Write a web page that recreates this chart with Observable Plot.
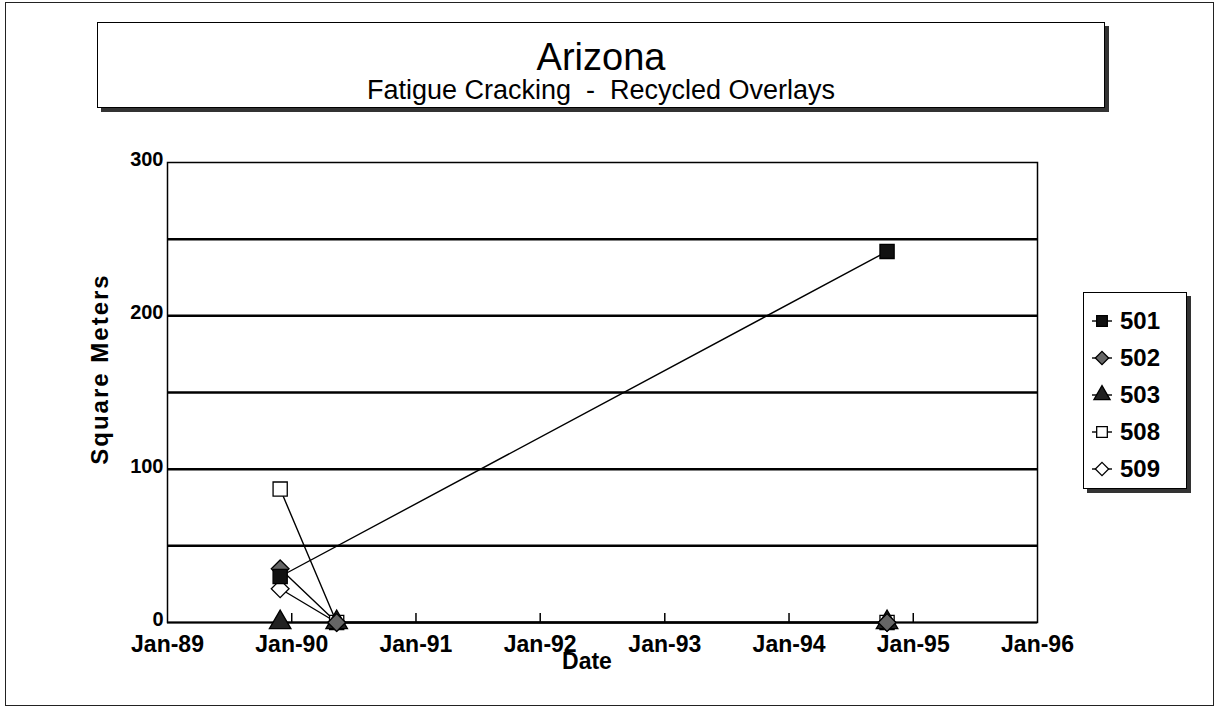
<!DOCTYPE html>
<html><head><meta charset="utf-8">
<script src="https://cdn.jsdelivr.net/npm/d3@7"></script>
<script src="https://cdn.jsdelivr.net/npm/@observablehq/plot@0.6"></script>
<style>
body{margin:0;background:#fff;font-family:"Liberation Sans",Arial,sans-serif;}
#wrap{position:relative;width:1219px;height:709px;overflow:hidden;background:#fff;}
#wrap > svg{position:absolute;left:0;top:0;}
.abs{position:absolute;box-sizing:border-box;}
</style></head><body><div id="wrap"></div>
<script>
// ---- data ----
const chartTitle = "Arizona";
const chartSubtitle = "Fatigue Cracking  -  Recycled Overlays";
const xTitle = "Date";
const yTitle = "Square Meters";
const seriesNames = ["501", "502", "503", "508", "509"];
const surveyDates = ["1989-11-28", "1990-05-13", "1994-10-16"];
const v501 = [30, null, 242];
const v502 = [35, 0, 0];
const v503 = [0, 0, 0];
const v508 = [87, 0, 0];
const v509 = [22, 0, 0];
const yTickValues = [0, 100, 200, 300];
const gridValues = [50, 100, 150, 200, 250];
const xTickDates = ["1989-01-01", "1990-01-01", "1991-01-01", "1992-01-01", "1993-01-01", "1994-01-01", "1995-01-01", "1996-01-01"];
const xTickLabels = ["Jan-89", "Jan-90", "Jan-91", "Jan-92", "Jan-93", "Jan-94", "Jan-95", "Jan-96"];
const seriesSymbols = ["square", "diamond2", "triangle", "square", "diamond2"];
const seriesFills = ["#111", "#666", "#222", "#fff", "#fff"];

// ---- build table ----
const valuesBySeries = [v501, v502, v503, v508, v509];
const rows = [];
seriesNames.forEach((s, i) => {
  valuesBySeries[i].forEach((v, j) => {
    if (v != null) rows.push({series: s, date: new Date(surveyDates[j]), value: v});
  });
});
const dotRows = rows.slice().sort((a, b) => seriesNames.indexOf(b.series) - seriesNames.indexOf(a.series));
const tickDates = xTickDates.map(d => new Date(d));
const labelOf = new Map(tickDates.map((d, i) => [+d, xTickLabels[i]]));

const W = 1219, H = 709;
const mT = 162, mB = 87;
const innerH = H - mT - mB;
const chart = Plot.plot({
  width: W, height: H,
  marginLeft: 167, marginRight: 182, marginTop: mT, marginBottom: mB,
  style: {fontFamily: "'Liberation Sans', Arial, sans-serif", fontSize: "22px", fontWeight: "bold", color: "#000", background: "transparent"},
  x: {type: "utc", domain: [tickDates[0], tickDates[tickDates.length - 1]]},
  y: {domain: [yTickValues[0], yTickValues[yTickValues.length - 1]]},
  symbol: {domain: seriesNames, range: seriesSymbols},
  color: {domain: seriesNames, range: seriesFills},
  marks: [
    Plot.ruleY(gridValues, {stroke: "#000", strokeWidth: 2.5}),
    Plot.frame({stroke: "#000", strokeWidth: 1.5}),
    Plot.ruleY([yTickValues[0]], {stroke: "#000", strokeWidth: 2}),
    Plot.ruleX(tickDates.slice(1, -1), {stroke: "#000", strokeWidth: 1.5, insetTop: innerH - 9}),
    Plot.axisY(yTickValues, {anchor: "left", tickSize: 0, tickPadding: 4, label: null, fontSize: 20, dy: -3}),
    Plot.axisX(tickDates, {anchor: "bottom", tickSize: 0, tickPadding: 13, tickFormat: d => labelOf.get(+d), label: null, fontSize: 23}),
    Plot.line(rows, {x: "date", y: "value", z: "series", stroke: "#000", strokeWidth: 1.4}),
    Plot.dot(dotRows, {x: "date", y: "value", symbol: "series", fill: "series", stroke: "#000", strokeWidth: 1.3, r: 8})
  ]
});
const wrap = document.getElementById("wrap");
wrap.appendChild(chart);

// outer frame
const outer = document.createElement("div");
outer.className = "abs";
Object.assign(outer.style, {left: "5px", top: "2px", width: "1209px", height: "704px", border: "1.5px solid #222"});
wrap.appendChild(outer);

// title box
const tb = document.createElement("div");
tb.className = "abs";
Object.assign(tb.style, {left: "97px", top: "22px", width: "1008px", height: "86px", border: "1.5px solid #000", boxShadow: "4px 4px 0 #333", background: "#fff", textAlign: "center"});
const t1 = document.createElement("div");
t1.textContent = chartTitle;
Object.assign(t1.style, {fontSize: "38px", lineHeight: "40px", marginTop: "14px"});
const t2 = document.createElement("div");
t2.textContent = chartSubtitle;
Object.assign(t2.style, {fontSize: "27px", lineHeight: "30px", marginTop: "-2px", whiteSpace: "pre"});
tb.appendChild(t1); tb.appendChild(t2);
wrap.appendChild(tb);

// axis titles
const xt = document.createElement("div");
xt.className = "abs";
xt.textContent = xTitle;
Object.assign(xt.style, {left: "487px", top: "648px", width: "200px", textAlign: "center", fontSize: "23px", fontWeight: "bold"});
wrap.appendChild(xt);
const yt = document.createElement("div");
yt.className = "abs";
yt.textContent = yTitle;
Object.assign(yt.style, {left: "0px", top: "0px", width: "260px", textAlign: "center", fontSize: "24px", letterSpacing: "2px", fontWeight: "bold", lineHeight: "28px", transformOrigin: "center center", transform: "translate(-30px, 355px) rotate(-90deg)"});
wrap.appendChild(yt);

// legend
const lg = document.createElement("div");
lg.className = "abs";
Object.assign(lg.style, {left: "1083px", top: "292px", width: "104px", height: "197px", border: "1.5px solid #000", boxShadow: "4px 4px 0 #333", background: "#fff"});
const symMap = {square: d3.symbolSquare, diamond2: d3.symbolDiamond2, triangle: d3.symbolTriangle};
const lsvg = d3.create("svg").attr("width", 101).attr("height", 194).style("position", "absolute").style("left", "0").style("top", "0");
seriesNames.forEach((s, i) => {
  const cy = 28 + i * 37;
  const g = lsvg.append("g").attr("transform", `translate(18,${cy})`);
  g.append("line").attr("x1", -10).attr("x2", 10).attr("stroke", "#000").attr("stroke-width", 1.4);
  g.append("path").attr("d", d3.symbol(symMap[seriesSymbols[i]], Math.PI * 36)()).attr("fill", seriesFills[i]).attr("stroke", "#000").attr("stroke-width", 1.3);
  lsvg.append("text").attr("x", 36).attr("y", cy + 8).attr("font-size", 24).attr("font-weight", "bold").attr("font-family", "'Liberation Sans', Arial, sans-serif").text(s);
});
lg.appendChild(lsvg.node());
wrap.appendChild(lg);
</script></body></html>
